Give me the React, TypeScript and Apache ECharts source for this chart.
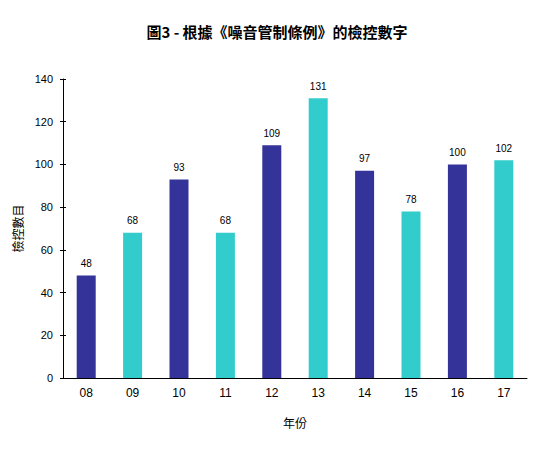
import React, { useEffect, useRef } from 'react';
import * as echarts from 'echarts';

const years = ['08', '09', '10', '11', '12', '13', '14', '15', '16', '17'];
const counts = [48, 68, 93, 68, 109, 131, 97, 78, 100, 102];
const barColors = ['#333399', '#33CCCC'];

const font = '"Liberation Sans", Arial, sans-serif';
const cjkFont = '"Noto Sans CJK TC", "Liberation Sans", sans-serif';

const App: React.FC = () => {
  const chartRef = useRef<HTMLDivElement>(null);

  useEffect(() => {
    document.body.style.margin = '0';
    const chart = echarts.init(chartRef.current!, undefined, { renderer: 'svg' });

    const yBase = {
      type: 'value',
      min: 0,
      max: 140,
      interval: 20,
      splitLine: { show: false },
    };

    const options = {
      animation: false,
      backgroundColor: '#ffffff',
      title: {
        text: '圖3 - 根據《噪音管制條例》的檢控數字',
        left: 'center',
        top: 19,
        textStyle: { fontFamily: cjkFont, fontSize: 15, fontWeight: 'bold', color: '#000' },
      },
      grid: { left: 63, right: 27, top: 79, bottom: 80 },
      xAxis: {
        type: 'category',
        data: years,
        name: '年份',
        nameLocation: 'middle',
        nameGap: 38,
        nameTextStyle: { fontFamily: cjkFont, fontSize: 12, color: '#000' },
        axisLine: { lineStyle: { color: '#000', width: 1 } },
        axisTick: { show: false },
        axisLabel: { fontFamily: font, fontSize: 12, color: '#000', margin: 9 },
      },
      yAxis: [
        {
          ...yBase,
          name: '檢控數目',
          nameLocation: 'middle',
          nameRotate: 90,
          nameGap: 34,
          nameTextStyle: { fontFamily: cjkFont, fontSize: 12, color: '#000' },
          axisLine: { show: true, lineStyle: { color: '#000', width: 1 } },
          axisTick: { show: true, length: 3, lineStyle: { color: '#000' } },
          axisLabel: { fontFamily: font, fontSize: 11, color: '#000', margin: 10 },
        },
        {
          ...yBase,
          position: 'left',
          axisLine: { show: false },
          axisTick: { show: true, inside: true, length: 3, lineStyle: { color: '#000' } },
          axisLabel: { show: false },
        },
      ],
      series: [
        {
          type: 'bar',
          data: counts.map((v, i) => ({ value: v, itemStyle: { color: barColors[i % 2] } })),
          barWidth: 19,
          label: {
            show: true,
            position: 'top',
            distance: 7,
            fontFamily: font,
            fontSize: 10,
            color: '#000',
          },
        },
      ],
    };

    chart.setOption(options);

    return () => {
      chart.dispose();
    };
  }, []);

  return <div ref={chartRef} style={{ width: '554px', height: '458px' }} />;
};

export default App;
